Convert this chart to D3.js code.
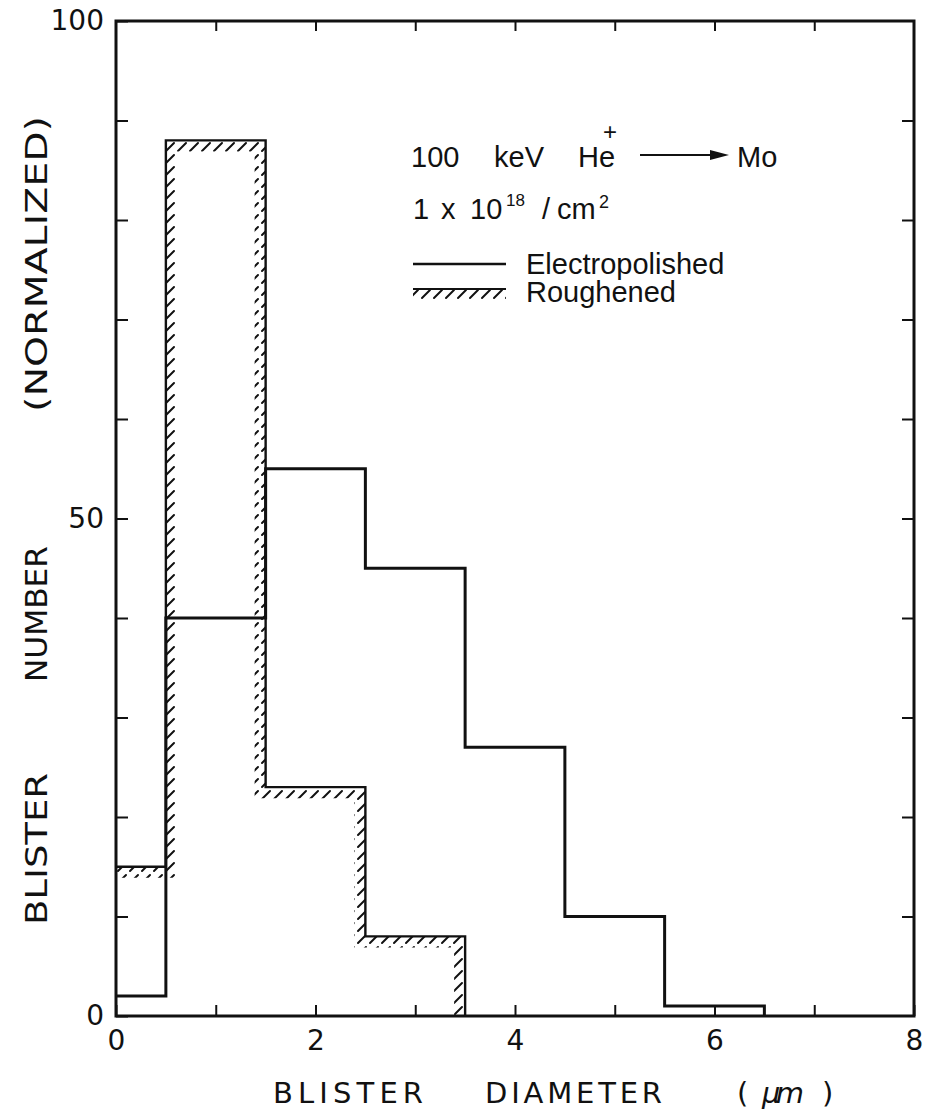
<!DOCTYPE html>
<html>
<head>
<meta charset="utf-8">
<script src="https://cdn.jsdelivr.net/npm/d3@7"></script>
<style>
  body { margin: 0; background: #fff; }
  .tick text { font-family: "DejaVu Sans", sans-serif; fill: #111; }
  .tick line { stroke: #111; stroke-width: 2; }
  .label { font-family: "DejaVu Sans", sans-serif; fill: #111; }
  .legend { font-family: "Liberation Sans", Arial, sans-serif; fill: #111; }
</style>
</head>
<body>
<script>
const outerWidth = 926;
const outerHeight = 1114;
const margin = { left: 116, top: 21, right: 12, bottom: 98 };
const innerWidth = outerWidth - margin.left - margin.right;
const innerHeight = outerHeight - margin.top - margin.bottom;

// histogram bins (blister diameter, um) and normalized counts
const binEdges = [0, 0.5, 1.5, 2.5, 3.5, 4.5, 5.5, 6.5];
const electropolished = [2, 40, 55, 45, 27, 10, 1];
const roughened = [15, 88, 23, 8];

const xTickValues = [0, 1, 2, 3, 4, 5, 6, 7, 8];
const xTickLabels = [0, 2, 4, 6, 8];
const yTickValues = [0, 10, 20, 30, 40, 50, 60, 70, 80, 90, 100];
const yTickLabels = [0, 50, 100];

const svg = d3.select("body").append("svg")
  .attr("width", outerWidth)
  .attr("height", outerHeight);

const defs = svg.append("defs");
defs.append("pattern")
  .attr("id", "hatch")
  .attr("patternUnits", "userSpaceOnUse")
  .attr("width", 12)
  .attr("height", 12)
  .append("path")
  .attr("d", "M2,10 L10,2")
  .attr("stroke", "#111")
  .attr("stroke-width", 2)
  .attr("stroke-linecap", "round");

const g = svg.append("g")
  .attr("transform", `translate(${margin.left}, ${margin.top})`);

const xScale = d3.scaleLinear().domain([0, 8]).range([0, innerWidth]);
const yScale = d3.scaleLinear().domain([0, 100]).range([innerHeight, 0]);

// step outline: (edge_i, v_i) ... (edge_n, v_last) -> (edge_n, 0)
const stepPoints = values => {
  const pts = values.map((v, i) => [binEdges[i], v]);
  pts.push([binEdges[values.length], values[values.length - 1]]);
  pts.push([binEdges[values.length], 0]);
  return pts;
};

const stepLine = d3.line()
  .x(d => xScale(d[0]))
  .y(d => yScale(d[1]))
  .curve(d3.curveStepAfter);

// roughened: hatched band on the inside of the outline
const roughPts = stepPoints(roughened);
defs.append("clipPath").attr("id", "roughClip")
  .append("path")
  .attr("d", stepLine(roughPts) + `L${xScale(0)},${yScale(0)}Z`);

g.append("path")
  .attr("d", stepLine(roughPts))
  .attr("fill", "none")
  .attr("stroke", "url(#hatch)")
  .attr("stroke-width", 22)
  .attr("clip-path", "url(#roughClip)");

g.append("path")
  .attr("d", stepLine(roughPts))
  .attr("fill", "none")
  .attr("stroke", "#111")
  .attr("stroke-width", 2.4);

// electropolished: solid outline
g.append("path")
  .attr("d", stepLine(stepPoints(electropolished)))
  .attr("fill", "none")
  .attr("stroke", "#111")
  .attr("stroke-width", 3);

// axes (ticks inward on all four sides)
const xAxisG = g.append("g")
  .attr("transform", `translate(0, ${innerHeight})`)
  .call(d3.axisBottom(xScale).tickValues(xTickValues).tickSize(-11).tickPadding(14)
    .tickFormat(d => xTickLabels.includes(d) ? d : ""));
const yAxisG = g.append("g")
  .call(d3.axisLeft(yScale).tickValues(yTickValues).tickSize(-12).tickPadding(12)
    .tickFormat(d => yTickLabels.includes(d) ? d : ""));
g.append("g")
  .call(d3.axisTop(xScale).tickValues(xTickValues.slice(1, -1)).tickSize(-10).tickFormat(""));
g.append("g")
  .attr("transform", `translate(${innerWidth}, 0)`)
  .call(d3.axisRight(yScale).tickValues(yTickValues.slice(1, -1)).tickSize(-12).tickFormat(""));

g.selectAll(".domain").remove();
g.selectAll(".tick text").filter(function() { return this.textContent === ""; }).remove();
xAxisG.selectAll("text").attr("font-size", 28);
yAxisG.selectAll("text").attr("font-size", 28);

g.append("rect")
  .attr("width", innerWidth)
  .attr("height", innerHeight)
  .attr("fill", "none")
  .attr("stroke", "#111")
  .attr("stroke-width", 3);

// axis titles
const xTitle = [
  { t: "BLISTER", x: 273, len: 150 },
  { t: "DIAMETER", x: 485, len: 177 },
  { t: "(", x: 737, len: 10 },
  { t: "\u03BCm", x: 762, len: 42 },
  { t: ")", x: 822, len: 10 }
];
svg.selectAll("text.xtitle").data(xTitle).enter().append("text")
  .attr("class", "label xtitle")
  .attr("x", d => d.x)
  .attr("y", 1103)
  .attr("font-size", 29)
  .attr("textLength", d => d.len)
  .attr("lengthAdjust", "spacing")
  .style("font-style", d => d.t === "\u03BCm" ? "italic" : null)
  .text(d => d.t);

const yTitle = [
  { t: "BLISTER", y: 925, len: 152 },
  { t: "NUMBER", y: 682, len: 136 },
  { t: "(NORMALIZED)", y: 412, len: 296 }
];
svg.selectAll("text.ytitle").data(yTitle).enter().append("text")
  .attr("class", "label ytitle")
  .attr("transform", d => `translate(47, ${d.y}) rotate(-90)`)
  .attr("font-size", 31)
  .attr("textLength", d => d.len)
  .attr("lengthAdjust", "spacingAndGlyphs")
  .text(d => d.t);

// legend
const lg = svg.append("g").attr("class", "legend").attr("font-size", 29);

const l1 = lg.append("text").attr("y", 167);
l1.append("tspan").attr("x", 411).text("100");
l1.append("tspan").attr("x", 494).text("keV");
l1.append("tspan").attr("x", 578).text("He");
lg.append("text").attr("x", 603).attr("y", 140).attr("font-size", 24).text("+");
lg.append("line")
  .attr("x1", 640).attr("x2", 720).attr("y1", 155).attr("y2", 155)
  .attr("stroke", "#111").attr("stroke-width", 2);
lg.append("path")
  .attr("d", "M710,150 L729,155 L710,160 Z")
  .attr("fill", "#111");
lg.append("text").attr("x", 737).attr("y", 167).text("Mo");

const l2 = lg.append("text").attr("y", 219);
l2.append("tspan").attr("x", 413).text("1");
l2.append("tspan").attr("x", 441).text("x");
l2.append("tspan").attr("x", 470).text("10");
l2.append("tspan").attr("x", 506).attr("dy", -13).attr("font-size", 17).text("18");
l2.append("tspan").attr("x", 542).attr("dy", 13).text("/");
l2.append("tspan").attr("x", 557).text("cm");
l2.append("tspan").attr("x", 599).attr("dy", -11).attr("font-size", 18).text("2");

lg.append("line")
  .attr("x1", 413).attr("x2", 506).attr("y1", 264).attr("y2", 264)
  .attr("stroke", "#111").attr("stroke-width", 2.5);
lg.append("text").attr("x", 526).attr("y", 274).text("Electropolished");

lg.append("rect")
  .attr("x", 413).attr("y", 289).attr("width", 93).attr("height", 10)
  .attr("fill", "url(#hatch)");
lg.append("line")
  .attr("x1", 413).attr("x2", 506).attr("y1", 289).attr("y2", 289)
  .attr("stroke", "#111").attr("stroke-width", 2);
lg.append("text").attr("x", 526).attr("y", 302).text("Roughened");
</script>
</body>
</html>
